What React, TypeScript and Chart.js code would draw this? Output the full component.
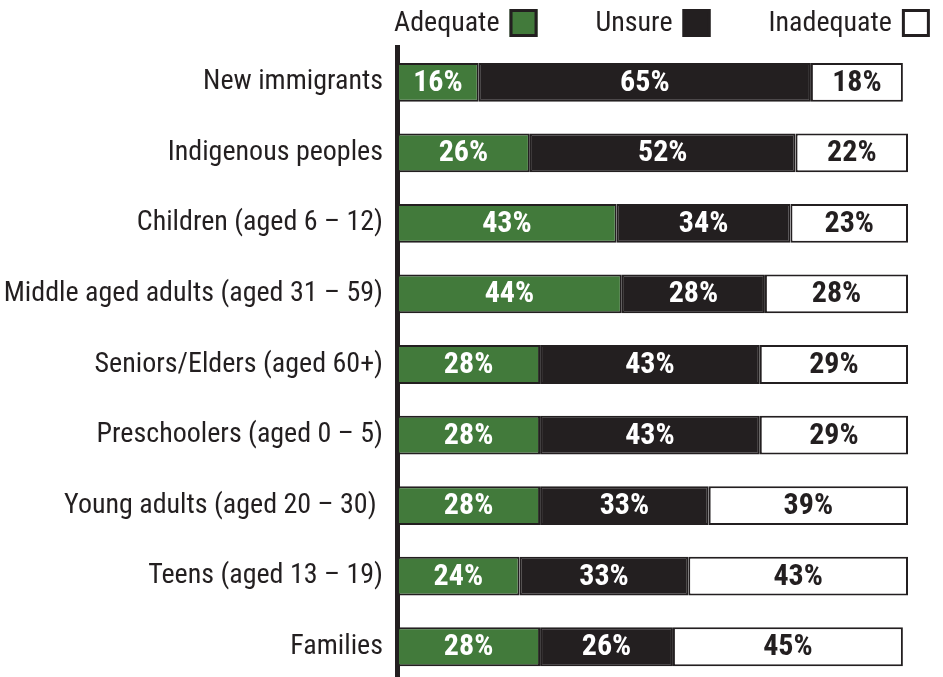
import React, { useEffect, useRef } from "react";
import { Chart, registerables } from "chart.js";

Chart.register(...registerables);

const categories = [
  "New immigrants",
  "Indigenous peoples",
  "Children (aged 6 – 12)",
  "Middle aged adults (aged 31 – 59)",
  "Seniors/Elders (aged 60+)",
  "Preschoolers (aged 0 – 5)",
  "Young adults (aged 20 – 30) ",
  "Teens (aged 13 – 19)",
  "Families",
];
const seriesNames = ["Adequate", "Unsure", "Inadequate"];
const adequate = [16, 26, 43, 44, 28, 28, 28, 24, 28];
const unsure = [65, 52, 34, 28, 43, 43, 33, 33, 26];
const inadequate = [18, 22, 23, 28, 29, 29, 39, 43, 45];

const FONT = "'Roboto Condensed', 'Liberation Sans Narrow', 'DejaVu Sans Condensed', sans-serif";
const DARK = "#231f20";
const GREEN = "#427a3b";
const fills = [GREEN, DARK, "#ffffff"];
const labelColors = ["#ffffff", "#ffffff", DARK];

const valueLabels = {
  id: "valueLabels",
  afterDatasetsDraw(chart: any) {
    const ctx = chart.ctx;
    ctx.save();
    ctx.font = `bold 30px ${FONT}`;
    ctx.textAlign = "center";
    ctx.textBaseline = "middle";
    chart.data.datasets.forEach((ds: any, di: number) => {
      const meta = chart.getDatasetMeta(di);
      meta.data.forEach((el: any, i: number) => {
        const cx = (el.x + el.base) / 2;
        ctx.fillStyle = labelColors[di];
        ctx.fillText(`${ds.data[i]}%`, cx, el.y + 1);
      });
    });
    ctx.restore();
  },
};

const topLegend = {
  id: "topLegend",
  afterDraw(chart: any) {
    const ctx = chart.ctx;
    ctx.save();
    ctx.font = `28px ${FONT}`;
    ctx.textBaseline = "middle";
    ctx.textAlign = "left";
    let x = chart.chartArea.left - 3;
    const cy = 23;
    const box = 28;
    seriesNames.forEach((name, i) => {
      ctx.fillStyle = DARK;
      ctx.fillText(name, x, cy + 1);
      const w = ctx.measureText(name).width;
      const bx = x + w + 10;
      ctx.fillStyle = fills[i];
      ctx.fillRect(bx, cy - box / 2, box, box);
      ctx.strokeStyle = DARK;
      ctx.lineWidth = 3;
      ctx.strokeRect(bx + 1.5, cy - box / 2 + 1.5, box - 3, box - 3);
      x = bx + box + 58;
    });
    ctx.restore();
  },
};

export default function App() {
  const ref = useRef<HTMLCanvasElement | null>(null);
  useEffect(() => {
    if (!ref.current) return;
    const datasetsValues = [adequate, unsure, inadequate];
    const chart = new Chart(ref.current, {
      type: "bar",
      data: {
        labels: categories,
        datasets: seriesNames.map((name, i) => ({
          label: name,
          data: datasetsValues[i],
          backgroundColor: fills[i],
          borderColor: DARK,
          borderWidth: 2,
          borderSkipped: false,
          barPercentage: 0.55,
          categoryPercentage: 1,
        })),
      },
      options: {
        indexAxis: "y",
        responsive: true,
        maintainAspectRatio: false,
        animation: false,
        layout: { padding: { top: 47, right: 35, left: 0, bottom: 0 } },
        plugins: { legend: { display: false }, tooltip: { enabled: false } },
        scales: {
          x: { stacked: true, min: 0, max: 100, display: false },
          y: {
            stacked: true,
            z: 1,
            grid: { display: false, drawTicks: false },
            border: { display: true, color: DARK, width: 5 },
            ticks: { color: DARK, font: { family: FONT, size: 28, lineHeight: 1 }, padding: 14 },
            afterFit: (s: any) => {
              s.width = 397;
            },
          },
        },
      } as any,
      plugins: [valueLabels, topLegend],
    });
    return () => chart.destroy();
  }, []);
  return (
    <div style={{ position: "fixed", left: 0, top: 0, width: 943, height: 677, overflow: "hidden", background: "#fff" }}>
      <div style={{ position: "relative", width: 943, height: 710 }}>
        <canvas ref={ref} />
      </div>
    </div>
  );
}
